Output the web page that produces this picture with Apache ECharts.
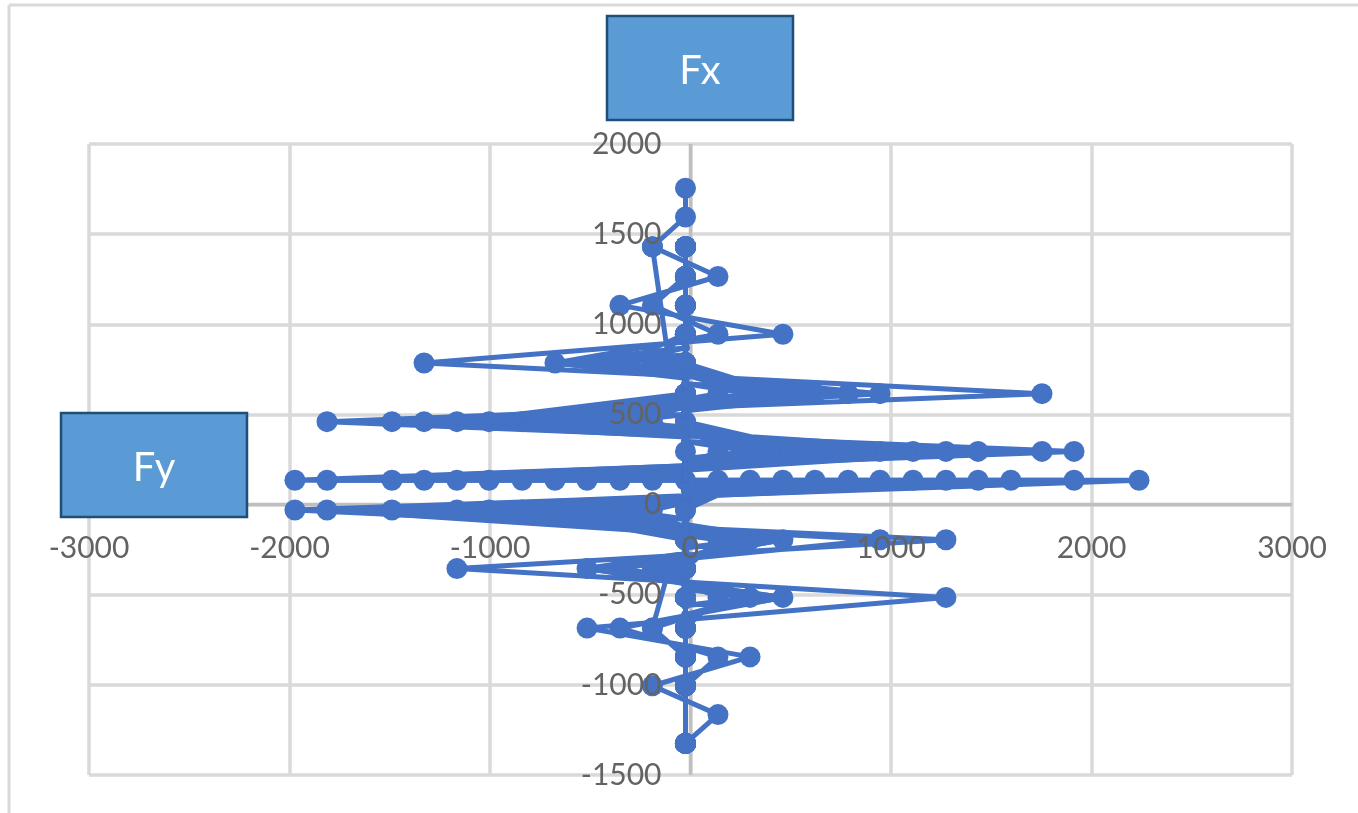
<!DOCTYPE html>
<html><head><meta charset="utf-8">
<style>html,body{margin:0;padding:0;background:#fff}#c{width:1358px;height:813px}</style>
<script src="https://cdn.jsdelivr.net/npm/echarts@6/dist/echarts.min.js"></script>
</head><body><div id="c"></div>
<script>
const xTicks = [-3000, -2000, -1000, 0, 1000, 2000, 3000];
const yTicks = [-1500, -1000, -500, 0, 500, 1000, 1500, 2000];
const centreFy = -25;
// Fx level of each sweep row, and the Fy values read at that row (largest first)
const topFx = [1755, 1595];
const rowC = [1430, -190];
const rowD = [1265, 137];
const rowE = [1105, -352, -190];
const rowF = [945, 461, 137];
const rowG = [785, -1329, -676, -352, -190];
const rowH = [615, 1753, 945, 786, 621, 461, 297, 137];
const rowI = [460, -1813, -1489, -1329, -1165, -1005, -840, -676, -516, -352, -190];
const rowJ = [295, 1913, 1753, 1434, 1274, 1110, 945, 786, 621, 461, 297, 137];
const rowKneg = [135, -1973, -1813, -1489, -1329, -1165, -1005, -840, -676, -516, -352, -190];
const rowKpos = [135, 2237, 1913, 1598, 1434, 1274, 1110, 945, 786, 621, 461, 297, 137];
const rowM = [-30, -1973, -1813, -1489, -1165, -1005, -840, -676, -516, -352, -190];
const rowN = [-195, 1274, 945, 461, 297, 137];
const rowO = [-355, -1165, -516, -352, -190];
const rowP = [-515, 1274, 461, 297, 137];
const rowQ = [-685, -516, -352, -190];
const rowR = [-845, 297, 137];
const rowS = [-1005, -190];
const rowT = [-1165, 137];
const rowU = [-1325];
const branchTop = [[-190, 1430], [-107, 785]];
const branchBottom = [[-107, -355], [-190, -685]];
// Bundles of lines running from the central column out to a row: [Fx values at the column, Fx at the row, Fy values]
const bundles = [
  [[870, 830, 740, 700], 785, [-676, -516, -352]],
  [[720, 670, 560, 520], 615, [786, 621, 461, 297]],
  [[615], 460, [-1165, -1005, -840, -676, -516, -352]],
  [[540, 500, 430, 400, 375], 460, [-1489, -1329, -1165, -1005, -840, -676, -516, -352]],
  [[460], 295, [621, 461, 297]],
  [[400, 350, 255, 215, 190], 295, [1434, 1274, 1110, 945, 786, 621, 461, 297]],
  [[215, 190, 165, 135], 135, [-1813, -1489, -1329, -1165, -1005, -840, -676, -516, -352]],
  [[135, 105, 75, 45], 135, [1913, 1598, 1434, 1274, 1110, 945, 786, 621, 461, 297]],
  [[45, 25, 5, -80, -120, -160], -30, [-1813, -1489, -1165, -1005, -840, -676, -516, -352]],
  [[-110, -150, -240, -290], -195, [461, 297]],
  [[-270, -300, -410, -440], -355, [-516, -352]],
  [[-445, -470, -560, -610], -515, [461, 297]]
];

const rows = [rowC, rowD, rowE, rowF, rowG, rowH, rowI, rowJ, rowKneg, rowKpos, rowM, rowN, rowO, rowP, rowQ, rowR, rowS, rowT, rowU];
const path = topFx.map(fx => [centreFy, fx]);
const sweeps = Math.max(...rows.map(r => r.length - 1));
for (let k = 1; k <= sweeps; k++) {
  for (const r of rows) {
    if (r === rowT && k >= r.length) continue; // no marker on the central column at this level
    path.push([k < r.length ? r[k] : centreFy, r[0]]);
  }
}
const bundlePath = [];
for (const [apexes, rowFx, values] of bundles) {
  for (const apexFx of apexes) {
    for (const fy of values) {
      bundlePath.push([centreFy, apexFx], [fy, rowFx]);
    }
    bundlePath.push([centreFy, apexFx]);
  }
}
const blue = '#4472c4';
const labelStyle = {fontFamily: 'Lato, "Open Sans", sans-serif', fontSize: 30, color: '#636363'};
const seriesBase = {type: 'line', symbol: 'circle', symbolSize: 21, showAllSymbol: true, animation: false,
  itemStyle: {color: blue, borderWidth: 0}, lineStyle: {color: blue, width: 5}, emphasis: {disabled: true}};
const gridLine = {show: true, lineStyle: {color: '#d9d9d9', width: 3.5}};
const chart = echarts.init(document.getElementById('c'), null, {renderer: 'canvas'});
chart.setOption({
  animation: false,
  backgroundColor: '#fff',
  grid: {left: 89, right: 66, top: 144, bottom: 38, containLabel: false},
  xAxis: [
    {type: 'value', min: xTicks[0], max: xTicks[xTicks.length - 1], interval: 1000, z: 1,
     axisLine: {show: false}, axisTick: {show: false}, axisLabel: {show: false}, splitLine: gridLine},
    {type: 'value', min: xTicks[0], max: xTicks[xTicks.length - 1], interval: 1000, z: 10, position: 'bottom',
     axisLine: {show: false}, axisTick: {show: false}, splitLine: {show: false},
     axisLabel: {...labelStyle, show: true, margin: 0, showMinLabel: true, showMaxLabel: true,
       formatter: v => String(v), verticalAlign: 'middle', padding: 0}}
  ],
  yAxis: [
    {type: 'value', min: yTicks[0], max: yTicks[yTicks.length - 1], interval: 500, z: 1,
     axisLine: {show: false}, axisTick: {show: false}, axisLabel: {show: false}, splitLine: gridLine},
    {type: 'value', min: yTicks[0], max: yTicks[yTicks.length - 1], interval: 500, z: 10, position: 'left',
     axisLine: {show: false}, axisTick: {show: false}, splitLine: {show: false},
     axisLabel: {...labelStyle, show: true, margin: 0, formatter: v => String(v)}}
  ],
  series: [
    {...seriesBase, name: 'Fx-Fy', data: path, z: 3},
    {...seriesBase, name: 'bundles', data: bundlePath, z: 3, symbolSize: 8},
    {...seriesBase, name: 'branch top', data: branchTop, z: 3},
    {...seriesBase, name: 'branch bottom', data: branchBottom, z: 3}
  ]
});
const origin = chart.convertToPixel({xAxisIndex: 0, yAxisIndex: 0}, [0, 0]);
const rectBottom = chart.convertToPixel({yAxisIndex: 0}, yTicks[0]);
const rectLeft = chart.convertToPixel({xAxisIndex: 0}, xTicks[0]);
const rectTop = chart.convertToPixel({yAxisIndex: 0}, yTicks[yTicks.length - 1]);
const rectRight = chart.convertToPixel({xAxisIndex: 0}, xTicks[xTicks.length - 1]);
chart.setOption({
  xAxis: [{}, {axisLabel: {margin: -(rectBottom - origin[1]) + 44}}],
  yAxis: [{}, {axisLabel: {margin: -(origin[0] - rectLeft) + 29}}],
  graphic: [
    {type: 'line', z: 1, silent: true, shape: {x1: 9, y1: 813, x2: 9, y2: 5}, style: {stroke: '#d9d9d9', lineWidth: 3}},
    {type: 'line', z: 1, silent: true, shape: {x1: 9, y1: 5, x2: 1358, y2: 5}, style: {stroke: '#d9d9d9', lineWidth: 3}},
    {type: 'line', z: 1, silent: true, shape: {x1: rectLeft, y1: origin[1], x2: rectRight, y2: origin[1]}, style: {stroke: '#bfbfbf', lineWidth: 3.5}},
    {type: 'line', z: 1, silent: true, shape: {x1: origin[0], y1: rectTop, x2: origin[0], y2: rectBottom}, style: {stroke: '#bfbfbf', lineWidth: 3.5}},
    {type: 'group', z: 20, children: [
      {type: 'rect', z: 20, shape: {x: 607, y: 16, width: 186, height: 104},
       style: {fill: '#5b9bd5', stroke: '#1f4e79', lineWidth: 2.5},
       textContent: {style: {text: 'Fx', fill: '#fff', fontSize: 40, fontFamily: 'Lato, sans-serif'}, z: 21},
       textConfig: {position: 'inside', offset: [0, 3]}},
      {type: 'rect', z: 20, shape: {x: 61, y: 413, width: 186, height: 104},
       style: {fill: '#5b9bd5', stroke: '#1f4e79', lineWidth: 2.5},
       textContent: {style: {text: 'Fy', fill: '#fff', fontSize: 40, fontFamily: 'Lato, sans-serif'}, z: 21},
       textConfig: {position: 'inside', offset: [0, 3]}}
    ]}
  ]
});
</script></body></html>
